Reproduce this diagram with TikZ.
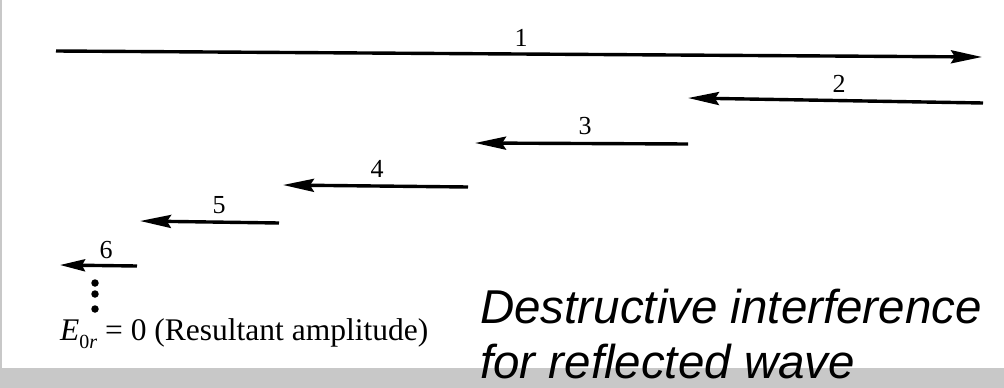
\documentclass[tikz,border=0pt]{standalone}
\usepackage{fontspec}
\setmainfont{Liberation Serif}
\newfontfamily\arialf{Liberation Sans}
\usetikzlibrary{arrows.meta}
\definecolor{bargray}{RGB}{200,200,200}
\begin{document}
\begin{tikzpicture}[x=1pt,y=-1pt,
  vec/.style={line width=3.4pt, -{Stealth[length=31pt,width=13pt,inset=4pt]}},
  num/.style={font=\fontsize{26}{30}\selectfont, anchor=base, inner sep=0pt},
  dotn/.style={circle, fill=black, inner sep=0pt, minimum size=7.5pt},
  caption/.style={font=\arialf\itshape\fontsize{47.5}{55}\selectfont, anchor=base west, inner sep=0pt}]
\useasboundingbox (0,0) rectangle (1004,388);
\fill[white] (0,0) rectangle (1004,388);
\fill[bargray] (0,0) rectangle (2,388);
\fill[bargray] (0,368) rectangle (1004,388);
% arrows
\coordinate (t1) at (56,51);  \coordinate (h1) at (982,57);
\coordinate (t2) at (983,103); \coordinate (h2) at (688,98);
\coordinate (t3) at (688,144); \coordinate (h3) at (475,143);
\coordinate (t4) at (468,187); \coordinate (h4) at (283,185);
\coordinate (t5) at (279,223); \coordinate (h5) at (140,221);
\coordinate (t6) at (137,266); \coordinate (h6) at (60,265);
\draw[vec] (t1) -- (h1);
\draw[vec] (t2) -- (h2);
\draw[vec] (t3) -- (h3);
\draw[vec] (t4) -- (h4);
\draw[vec] (t5) -- (h5);
\draw[vec,-{Stealth[length=25pt,width=12pt,inset=3pt]}] (t6) -- (h6);
% labels
\node[num] (l1) at (521,46) {1};
\node[num] (l2) at (839,92) {2};
\node[num] (l3) at (585,134) {3};
\node[num] (l4) at (377,177) {4};
\node[num] (l5) at (219,213) {5};
\node[num] (l6) at (106,258) {6};
% dots
\node[dotn] (d1) at (95,283) {};
\node[dotn] (d2) at (95,294) {};
\node[dotn] (d3) at (95,309) {};
% resultant text
\node[anchor=base west, inner sep=0pt, font=\fontsize{31.5}{36}\selectfont] (res) at (60,340)
  {\textit{E}\raisebox{-0.28em}{\fontsize{20}{24}\selectfont 0\textit{r}} = 0 (Resultant amplitude)};
% caption
\node[caption] (c1) at (480,323) {Destructive interference};
\node[caption] (c2) at (480,378) {for reflected wave};
\end{tikzpicture}
\end{document}
